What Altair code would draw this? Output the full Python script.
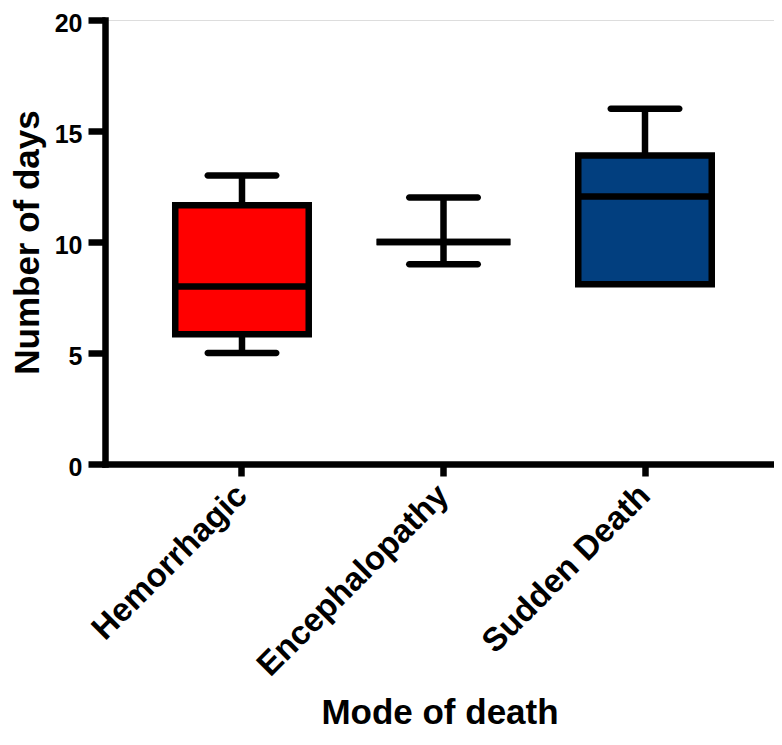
import altair as alt
import pandas as pd

categories = ["Hemorrhagic", "Encephalopathy", "Sudden Death"]
whisker_low = [5.0, 9.0, 8.1]
box_low = [5.85, 10.0, 8.1]
medians = [8.0, 10.0, 12.05]
box_high = [11.65, 10.0, 13.9]
whisker_high = [13.0, 12.0, 16.0]
fill_colors = ["#FF0000", "#FFFFFF", "#023F7F"]

df = pd.DataFrame({
    "cat": categories,
    "wlo": whisker_low,
    "q1": box_low,
    "med": medians,
    "q3": box_high,
    "whi": whisker_high,
})

FONT = "Liberation Sans"
LW = 6.5

x = alt.X("cat:N", sort=categories,
          scale=alt.Scale(paddingInner=0, paddingOuter=0.16, align=0.562),
          axis=alt.Axis(title="Mode of death"))
ysc = alt.Scale(domain=[0, 20], nice=False, zero=True)
yaxis = alt.Axis(title="Number of days", values=[0, 5, 10, 15, 20])

base = alt.Chart(df)

upper = base.mark_rule(color="black", strokeWidth=LW).encode(
    x=x, y=alt.Y("q3:Q", scale=ysc, axis=yaxis), y2="whi:Q")
lower = base.mark_rule(color="black", strokeWidth=LW).encode(
    x=x, y=alt.Y("wlo:Q", scale=ysc, axis=yaxis), y2="q1:Q")

box = base.mark_bar(size=133.5, stroke="black", strokeWidth=LW).encode(
    x=x, y=alt.Y("q1:Q", scale=ysc, axis=yaxis), y2="q3:Q",
    color=alt.Color("cat:N", scale=alt.Scale(domain=categories, range=fill_colors),
                    legend=None))

median = base.mark_tick(color="black", thickness=LW, size=134, opacity=1).encode(
    x=x, y=alt.Y("med:Q", scale=ysc, axis=yaxis))

cap_hi = base.mark_tick(color="black", thickness=LW, size=75, cornerRadius=3.25,
                        opacity=1).encode(x=x, y=alt.Y("whi:Q", scale=ysc, axis=yaxis))
cap_lo = base.transform_filter("datum.wlo < datum.q1").mark_tick(
    color="black", thickness=LW, size=75, cornerRadius=3.25, opacity=1).encode(
    x=x, y=alt.Y("wlo:Q", scale=ysc, axis=yaxis))

chart = alt.layer(upper, lower, box, median, cap_hi, cap_lo).properties(
    width=669, height=444,
    autosize=alt.AutoSizeParams(type="none"),
    padding={"left": 97, "top": 12, "right": 0, "bottom": 273},
).configure_view(stroke=None).configure(background="white").configure_axis(
    grid=False,
    labelFont=FONT, labelFontWeight="bold", labelColor="black", labelLimit=0,
    titleFont=FONT, titleFontWeight="bold", titleColor="black",
    domainColor="black", domainWidth=LW, domainCap="square",
    tickColor="black", tickWidth=LW,
).configure_axisX(
    labelAngle=-45, labelAlign="right", labelBaseline="middle",
    labelFontSize=33, labelPadding=14, tickSize=12,
    titleFontSize=35, titlePadding=31,
).configure_axisY(
    labelFontSize=25, labelPadding=6, tickSize=17, labelOffset=3,
    titleFontSize=35, titleX=-95, titleBaseline="top",
)

chart.save("out.html", embed_options={"renderer": "svg", "actions": False})
